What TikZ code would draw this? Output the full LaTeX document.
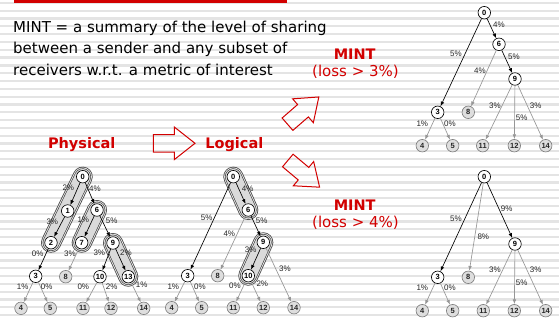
\documentclass[tikz,border=0pt]{standalone}
\usepackage{fontspec}
\setmainfont{DejaVu Sans}
\newfontfamily\arialf{Liberation Sans}
\usetikzlibrary{arrows.meta}
\definecolor{redc}{RGB}{210,0,0}
\definecolor{stripec}{RGB}{228,228,228}
\definecolor{capfill}{RGB}{218,218,218}
\definecolor{capline}{RGB}{70,70,70}
\definecolor{leaffill}{RGB}{222,222,222}
\definecolor{edgegray}{RGB}{150,150,150}
\newcommand\nodefont{\arialf\bfseries\fontsize{7.5}{8}\selectfont}
\newcommand\labfont{\arialf\fontsize{8}{9}\selectfont}
\tikzset{
  wn/.style={circle, draw=black, fill=white, line width=0.65pt, inner sep=0pt, minimum size=12.5pt, font=\nodefont},
  gn/.style={circle, draw=gray, fill=leaffill, line width=0.65pt, inner sep=0pt, minimum size=12.5pt, font=\nodefont, text=black!85},
  be/.style={draw=black, line width=0.65pt, -{Latex[length=4.8pt,width=3.6pt]}},
  ge/.style={draw=edgegray, line width=0.65pt, -{Latex[length=4.8pt,width=3.6pt]}},
  lab/.style={font=\labfont, text=black!85, inner sep=0pt},
  bigtxt/.style={font=\fontsize{15}{18}\selectfont, anchor=base west, inner sep=0pt},
  redbold/.style={font=\bfseries\fontsize{14.5}{17}\selectfont, text=redc, anchor=base, inner sep=0pt},
  redreg/.style={font=\fontsize{15}{18}\selectfont, text=redc, anchor=base, inner sep=0pt},
  hollow/.style={draw=redc, line width=1pt, line join=miter},
}
\newcommand\capsule[2]{%
  \draw[line width=20pt, line cap=round, capline] (#1) -- (#2);
  \draw[line width=18.4pt, line cap=round, white!90!gray] (#1) -- (#2);
  \draw[line width=16.8pt, line cap=round, capline] (#1) -- (#2);
  \draw[line width=15.4pt, line cap=round, capfill] (#1) -- (#2);
}
\begin{document}
\begin{tikzpicture}[x=1pt,y=-1pt]
\useasboundingbox (0,0) rectangle (559,321);
\fill[white] (0,0) rectangle (559,321);
\foreach \i in {0,...,40} \fill[stripec] (0,{3+7.8*\i-1.1}) rectangle (559,{3+7.8*\i+1.1});
\fill[redc] (14,0) rectangle (287,2.7);

% text
\node[bigtxt] (t1) at (13,32.3) {MINT = a summary of the level of sharing};
\node[bigtxt] (t2) at (13,53.5) {between a sender and any subset of};
\node[bigtxt] (t3) at (13,75) {receivers w.r.t. a metric of interest};
\node[redbold] (m1) at (354.7,59.3) {MINT};
\node[redreg] (m1b) at (355.5,76.7) {(loss > 3\%)};
\node[redbold] (m2) at (354.7,210.7) {MINT};
\node[redreg] (m2b) at (355.5,227.7) {(loss > 4\%)};
\node[redbold] (phys) at (81.7,148.3) {Physical};
\node[redbold] (logi) at (234.3,148.3) {Logical};

% hollow arrows
\draw[hollow, shift={(153.3,143.3)}] (0,-8.8) -- (21,-8.8) -- (21,-16.3) -- (41.7,0) -- (21,16.3) -- (21,8.8) -- (0,8.8) -- cycle;
\draw[hollow, shift={(287.5,124.2)}, rotate=41] (0,-8.2) -- (20.5,-8.2) -- (20.5,-15.8) -- (41.5,0) -- (20.5,15.8) -- (20.5,8.2) -- (0,8.2) -- cycle;
\draw[hollow, shift={(287.8,160.5)}, rotate=-40] (0,-8.2) -- (20.5,-8.2) -- (20.5,-15.8) -- (41.5,0) -- (20.5,15.8) -- (20.5,8.2) -- (0,8.2) -- cycle;

% ---------- physical tree ----------
\coordinate (cp0) at (82.7,176.7);
\coordinate (cp1) at (67.7,211);
\coordinate (cp2) at (51,242.7);
\coordinate (cp6) at (97,210);
\coordinate (cp7) at (81.7,242.7);
\coordinate (cp9) at (113,243);
\coordinate (cp13) at (128.3,276.7);
\capsule{cp0}{cp2}
\capsule{cp6}{cp7}
\capsule{cp9}{cp13}
\node[wn] (p0) at (cp0) {0};
\node[wn] (p1) at (cp1) {1};
\node[wn] (p2) at (cp2) {2};
\node[wn] (p3) at (35.7,276.3) {3};
\node[wn] (p6) at (cp6) {6};
\node[wn] (p7) at (cp7) {7};
\node[gn] (p8) at (65.7,276.7) {8};
\node[wn] (p9) at (cp9) {9};
\node[wn] (p10) at (100,276.7) {10};
\node[wn] (p13) at (cp13) {13};
\node[gn] (p4) at (21,308.3) {4};
\node[gn] (p5) at (50.3,308.3) {5};
\node[gn] (p11) at (83,308.3) {11};
\node[gn] (p12) at (111,308.3) {12};
\node[gn] (p14) at (143.7,308.3) {14};
\draw[be] (p0) -- (p1);
\draw[be] (p1) -- (p2);
\draw[be] (p2) -- (p3);
\draw[be] (p0) -- (p6);
\draw[be] (p6) -- (p7);
\draw[be] (p6) -- (p9);
\draw[be] (p9) -- (p10);
\draw[be] (p9) -- (p13);
\draw[ge] (p3) -- (p4);
\draw[ge] (p3) -- (p5);
\draw[ge] (p7) -- (p8);
\draw[ge] (p10) -- (p11);
\draw[ge] (p10) -- (p12);
\draw[ge] (p13) -- (p14);
\node[lab] (pl1) at (68.3,187.7) {2\%};
\node[lab] (pl2) at (95,188.3) {4\%};
\node[lab] (pl3) at (52.3,221.7) {3\%};
\node[lab] (pl4) at (83.3,220) {1\%};
\node[lab] (pl5) at (111.7,220.7) {5\%};
\node[lab] (pl6) at (37.7,254) {0\%};
\node[lab] (pl7) at (70,254) {3\%};
\node[lab] (pl8) at (99.3,252.7) {3\%};
\node[lab] (pl9) at (126,252.7) {2\%};
\node[lab] (pl10) at (22.7,286.7) {1\%};
\node[lab] (pl11) at (46.7,286.7) {0\%};
\node[lab] (pl12) at (83.3,286.7) {0\%};
\node[lab] (pl13) at (111.7,286.7) {2\%};
\node[lab] (pl14) at (141.7,285) {1\%};

% ---------- logical tree ----------
\coordinate (cl0) at (233.3,176.7);
\coordinate (cl6) at (248.3,210);
\coordinate (cl9) at (263.3,242.3);
\coordinate (cl10) at (248.3,275.7);
\capsule{cl0}{cl6}
\capsule{cl9}{cl10}
\node[wn] (l0) at (cl0) {0};
\node[wn] (l6) at (cl6) {6};
\node[wn] (l3) at (187.7,275.7) {3};
\node[gn] (l8) at (217.7,275.7) {8};
\node[wn] (l9) at (cl9) {9};
\node[wn] (l10) at (cl10) {10};
\node[gn] (l4) at (171.7,307.7) {4};
\node[gn] (l5) at (201.7,307.7) {5};
\node[gn] (l11) at (233.3,307.7) {11};
\node[gn] (l12) at (263.3,307.7) {12};
\node[gn] (l14) at (294,307.7) {14};
\draw[be] (l0) -- (l3);
\draw[be] (l0) -- (l6);
\draw[be] (l6) -- (l9);
\draw[be] (l9) -- (l10);
\draw[ge] (l6) -- (l8);
\draw[ge] (l9) -- (l14);
\draw[ge] (l3) -- (l4);
\draw[ge] (l3) -- (l5);
\draw[ge] (l10) -- (l11);
\draw[ge] (l10) -- (l12);
\node[lab] (ll1) at (247.7,188.3) {4\%};
\node[lab] (ll2) at (206.7,217.7) {5\%};
\node[lab] (ll3) at (261.7,220.7) {5\%};
\node[lab] (ll4) at (229.3,234) {4\%};
\node[lab] (ll5) at (250.7,250) {3\%};
\node[lab] (ll6) at (285,268.3) {3\%};
\node[lab] (ll7) at (173.3,286.7) {1\%};
\node[lab] (ll8) at (200,286.7) {0\%};
\node[lab] (ll9) at (235,285.7) {0\%};
\node[lab] (ll10) at (262.3,284) {2\%};

% ---------- MINT loss > 3% ----------
\node[wn] (a0) at (484.3,12.7) {0};
\node[wn] (a6) at (499,44.3) {6};
\node[wn] (a9) at (515,79) {9};
\node[wn] (a3) at (437.7,112.3) {3};
\node[gn] (a8) at (468.3,112.3) {8};
\node[gn] (a4) at (422.3,145.7) {4};
\node[gn] (a5) at (452.7,145.7) {5};
\node[gn] (a11) at (482.7,145.7) {11};
\node[gn] (a12) at (514.3,145.7) {12};
\node[gn] (a14) at (545.7,145.7) {14};
\draw[be] (a0) -- (a3);
\draw[be] (a0) -- (a6);
\draw[be] (a6) -- (a9);
\draw[ge] (a6) -- (a8);
\draw[ge] (a9) -- (a11);
\draw[ge] (a9) -- (a12);
\draw[ge] (a9) -- (a14);
\draw[ge] (a3) -- (a4);
\draw[ge] (a3) -- (a5);
\node[lab] (al1) at (499,24.3) {4\%};
\node[lab] (al2) at (456,53.3) {5\%};
\node[lab] (al3) at (514,56.7) {5\%};
\node[lab] (al4) at (480,70.7) {4\%};
\node[lab] (al5) at (495,106) {3\%};
\node[lab] (al6) at (535.7,106) {3\%};
\node[lab] (al7) at (521.7,117.3) {5\%};
\node[lab] (al8) at (422.3,123.3) {1\%};
\node[lab] (al9) at (450,124) {0\%};

% ---------- MINT loss > 4% ----------
\node[wn] (b0) at (484.3,176.7) {0};
\node[wn] (b9) at (515,244) {9};
\node[wn] (b3) at (437.7,277.3) {3};
\node[gn] (b8) at (468.3,277.3) {8};
\node[gn] (b4) at (422.3,310.7) {4};
\node[gn] (b5) at (452.7,310.7) {5};
\node[gn] (b11) at (483.3,310.7) {11};
\node[gn] (b12) at (514.3,310.7) {12};
\node[gn] (b14) at (545.7,310.7) {14};
\draw[be] (b0) -- (b3);
\draw[be] (b0) -- (b9);
\draw[ge] (b0) -- (b8);
\draw[ge] (b9) -- (b11);
\draw[ge] (b9) -- (b12);
\draw[ge] (b9) -- (b14);
\draw[ge] (b3) -- (b4);
\draw[ge] (b3) -- (b5);
\node[lab] (bl1) at (506.7,208.3) {9\%};
\node[lab] (bl2) at (456,218.3) {5\%};
\node[lab] (bl3) at (483.3,236.7) {8\%};
\node[lab] (bl4) at (495,270) {3\%};
\node[lab] (bl5) at (535.7,270) {3\%};
\node[lab] (bl6) at (521.7,282.3) {5\%};
\node[lab] (bl7) at (422.3,287.7) {1\%};
\node[lab] (bl8) at (450,287.7) {0\%};
\end{tikzpicture}
\end{document}
